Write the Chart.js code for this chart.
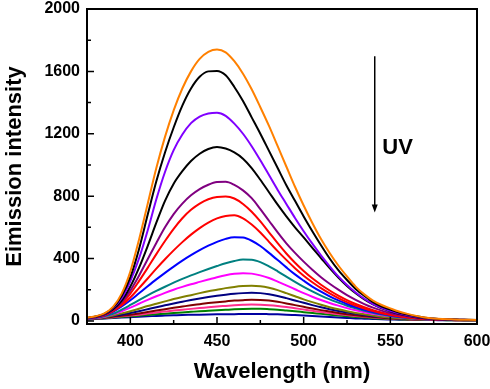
<!DOCTYPE html>
<html>
<head>
<meta charset="utf-8">
<script src="https://cdn.jsdelivr.net/npm/chart.js@4.4.1/dist/chart.umd.min.js"></script>
<style>
  html, body { margin: 0; padding: 0; background: #fff; }
  #wrap { width: 490px; height: 389px; }
</style>
</head>
<body>
<div id="wrap"><canvas id="spectra" width="490" height="389"></canvas></div>
<script>
// wavelength grid (nm)
const wavelengths = [375, 380, 385, 390, 395, 400, 405, 410, 415, 420,
  425, 430, 435, 440, 445, 450, 455, 460, 465, 470,
  475, 480, 485, 490, 495, 500, 505, 510, 515, 520,
  525, 530, 535, 540, 545, 550, 555, 560, 565, 570,
  575, 580, 585, 590, 595, 600];

// emission spectra, highest to lowest
const curveOrange = [20, 30, 48, 90, 175, 317, 520, 750, 980, 1180, 1350, 1490, 1600, 1680, 1725, 1740, 1722, 1665, 1585, 1485, 1370, 1250, 1120, 990, 860, 740, 628, 525, 435, 355, 285, 220, 170, 130, 102, 80, 60, 45, 32, 22, 16, 12, 10, 8, 7, 6];
const curveBlack1 = [19, 28, 45, 85, 160, 280, 460, 680, 895, 1080, 1240, 1380, 1490, 1565, 1600, 1603, 1575, 1500, 1410, 1305, 1200, 1090, 980, 870, 770, 670, 575, 485, 400, 325, 262, 205, 160, 120, 92, 72, 54, 40, 29, 20, 15, 11, 9, 8, 7, 6];
const curveViolet = [18, 27, 43, 82, 145, 255, 400, 580, 780, 955, 1095, 1195, 1268, 1310, 1330, 1335, 1315, 1265, 1200, 1120, 1030, 935, 840, 750, 660, 575, 495, 420, 350, 285, 230, 182, 142, 108, 84, 65, 48, 36, 26, 18, 13, 10, 8, 7, 6, 5];
const curveBlack2 = [18, 26, 42, 75, 130, 220, 340, 480, 630, 770, 880, 960, 1025, 1072, 1102, 1115, 1105, 1080, 1040, 980, 905, 825, 745, 670, 600, 535, 468, 403, 338, 278, 224, 177, 138, 106, 81, 62, 46, 34, 24, 17, 12, 10, 8, 7, 6, 5];
const curvePurple = [17, 25, 40, 70, 120, 195, 290, 395, 500, 600, 685, 752, 805, 845, 873, 890, 892, 872, 837, 787, 717, 642, 567, 497, 436, 380, 328, 280, 238, 200, 165, 135, 108, 85, 66, 51, 39, 29, 21, 15, 11, 9, 7, 6, 5, 5];
const curveRed1 = [17, 24, 38, 66, 110, 175, 255, 340, 428, 512, 590, 658, 712, 752, 780, 795, 797, 785, 750, 700, 638, 568, 498, 432, 373, 320, 273, 232, 195, 162, 133, 108, 87, 69, 54, 42, 32, 24, 18, 14, 10, 8, 7, 6, 5, 5];
const curveRed2 = [16, 23, 36, 62, 100, 150, 210, 272, 335, 395, 452, 505, 553, 595, 630, 657, 673, 678, 658, 618, 567, 507, 447, 391, 338, 290, 248, 210, 176, 146, 120, 98, 79, 63, 49, 38, 29, 22, 16, 12, 9, 8, 7, 6, 5, 5];
const curveBlue = [15, 22, 34, 58, 92, 132, 177, 222, 266, 308, 348, 386, 421, 453, 482, 507, 526, 536, 534, 514, 480, 436, 390, 343, 298, 258, 220, 187, 157, 131, 108, 88, 71, 57, 45, 35, 27, 21, 16, 12, 9, 8, 7, 6, 5, 5];
const curveTeal = [14, 20, 29, 45, 72, 102, 133, 163, 192, 219, 245, 269, 292, 313, 333, 352, 370, 384, 393, 392, 377, 350, 318, 284, 250, 218, 189, 162, 138, 117, 97, 80, 65, 52, 41, 32, 25, 19, 14, 11, 9, 7, 6, 5, 5, 5];
const curveMagenta = [13, 18, 27, 42, 62, 85, 110, 135, 158, 180, 200, 218, 235, 250, 265, 280, 293, 302, 306, 303, 292, 275, 252, 228, 203, 178, 155, 134, 115, 98, 82, 68, 56, 45, 36, 29, 23, 18, 14, 11, 9, 7, 6, 5, 5, 5];
const curveOlive = [12, 17, 24, 35, 48, 62, 78, 95, 110, 125, 140, 153, 165, 178, 190, 200, 210, 218, 223, 225, 222, 212, 197, 178, 158, 138, 120, 103, 88, 74, 62, 51, 42, 34, 27, 22, 17, 14, 11, 9, 7, 6, 5, 5, 4, 4];
const curveNavy = [12, 16, 22, 31, 40, 50, 62, 75, 88, 100, 112, 123, 134, 144, 153, 161, 168, 174, 178, 180, 178, 171, 160, 146, 131, 116, 101, 87, 75, 64, 54, 45, 37, 30, 25, 20, 16, 13, 10, 8, 7, 6, 5, 5, 4, 4];
const curveWine = [11, 15, 20, 27, 33, 40, 48, 57, 66, 75, 84, 92, 100, 107, 114, 120, 125, 130, 133, 135, 134, 130, 122, 112, 101, 90, 79, 69, 60, 51, 43, 36, 30, 25, 20, 16, 13, 11, 9, 7, 6, 5, 5, 4, 4, 4];
const curvePink = [11, 14, 18, 24, 29, 34, 40, 47, 54, 60, 66, 72, 77, 82, 87, 92, 96, 100, 103, 105, 104, 101, 96, 89, 81, 73, 65, 57, 50, 43, 37, 31, 26, 22, 18, 15, 12, 10, 8, 7, 6, 5, 5, 4, 4, 4];
const curveGreen = [10, 13, 17, 21, 25, 29, 33, 38, 42, 46, 50, 54, 58, 62, 65, 68, 71, 74, 76, 77, 77, 75, 72, 67, 62, 56, 50, 45, 39, 34, 29, 25, 21, 17, 14, 12, 10, 8, 7, 6, 5, 5, 4, 4, 4, 4];
const curveRoyal = [10, 12, 15, 18, 21, 24, 27, 29, 32, 34, 36, 38, 39, 40, 41, 42, 43, 43, 44, 44, 44, 43, 42, 40, 37, 34, 31, 28, 25, 22, 19, 16, 14, 12, 10, 9, 8, 7, 6, 5, 5, 4, 4, 4, 4, 4];

const xTicks = [400, 450, 500, 550, 600];
const xMinorTicks = [425, 475, 525, 575];
const yTicks = [0, 400, 800, 1200, 1600, 2000];
const yMinorTicks = [200, 600, 1000, 1400, 1800];

const series = [
  [curveOrange, '#FF8000'],
  [curveBlack1, '#000000'],
  [curveViolet, '#8000FF'],
  [curveBlack2, '#000000'],
  [curvePurple, '#800080'],
  [curveRed1, '#FF0000'],
  [curveRed2, '#FF0000'],
  [curveBlue, '#0000FF'],
  [curveTeal, '#008080'],
  [curveMagenta, '#FF00FF'],
  [curveOlive, '#808000'],
  [curveNavy, '#000080'],
  [curveWine, '#800000'],
  [curvePink, '#FF2E8C'],
  [curveGreen, '#008000'],
  [curveRoyal, '#0000A0']
];

const fontFamily = "Arial, 'Liberation Sans', sans-serif";

// frame, inward ticks and the UV arrow
const framePlugin = {
  id: 'frame',
  afterDatasetsDraw(chart) {
    const { ctx, chartArea: a, scales: { x, y } } = chart;
    ctx.save();
    ctx.strokeStyle = '#000';
    ctx.lineWidth = 2;
    ctx.strokeRect(a.left, a.top, a.right - a.left, a.bottom - a.top);

    ctx.lineWidth = 1.5;
    ctx.beginPath();
    xTicks.forEach(v => { const px = x.getPixelForValue(v); ctx.moveTo(px, a.bottom); ctx.lineTo(px, a.bottom - 7); });
    xMinorTicks.forEach(v => { const px = x.getPixelForValue(v); ctx.moveTo(px, a.bottom); ctx.lineTo(px, a.bottom - 4); });
    yTicks.forEach(v => { const py = y.getPixelForValue(v); ctx.moveTo(a.left, py); ctx.lineTo(a.left + 7, py); });
    yMinorTicks.forEach(v => { const py = y.getPixelForValue(v); ctx.moveTo(a.left, py); ctx.lineTo(a.left + 4, py); });
    ctx.stroke();

    // arrow pointing down
    const ax = x.getPixelForValue(541);
    const ay1 = y.getPixelForValue(1697);
    const ay2 = y.getPixelForValue(695);
    ctx.lineWidth = 1.5;
    ctx.beginPath();
    ctx.moveTo(ax, ay1);
    ctx.lineTo(ax, ay2 - 6);
    ctx.stroke();
    ctx.fillStyle = '#000';
    ctx.beginPath();
    ctx.moveTo(ax - 3, ay2 - 8);
    ctx.lineTo(ax + 3, ay2 - 8);
    ctx.lineTo(ax, ay2);
    ctx.closePath();
    ctx.fill();

    ctx.font = 'bold 22px ' + fontFamily;
    ctx.textAlign = 'left';
    ctx.textBaseline = 'middle';
    ctx.fillText('UV', x.getPixelForValue(545.4), y.getPixelForValue(1110));
    ctx.restore();
  }
};

new Chart(document.getElementById('spectra'), {
  type: 'line',
  data: {
    datasets: series.map(([vals, color]) => ({
      data: wavelengths.map((w, i) => ({ x: w, y: vals[i] })),
      borderColor: color,
      borderWidth: 2,
      pointRadius: 0,
      fill: false,
      cubicInterpolationMode: 'monotone'
    }))
  },
  options: {
    responsive: false,
    animation: false,
    devicePixelRatio: 1,
    layout: { padding: { top: 9, right: 13, left: 0, bottom: 0 } },
    plugins: { legend: { display: false }, tooltip: { enabled: false } },
    scales: {
      x: {
        type: 'linear',
        min: 375,
        max: 600,
        grid: { display: false, drawTicks: false },
        border: { display: false },
        afterBuildTicks: s => { s.ticks = xTicks.map(v => ({ value: v })); },
        afterFit: s => { s.height = 65; s.paddingLeft = 0; s.paddingRight = 0; },
        ticks: { color: '#000', padding: 8, maxRotation: 0, autoSkip: false, callback: v => String(v), font: { family: fontFamily, size: 16, weight: 'bold' } },
        title: { display: true, text: 'Wavelength (nm)', color: '#000', padding: { top: 0, bottom: 4 }, font: { family: fontFamily, size: 22, weight: 'bold' } }
      },
      y: {
        min: -20,
        max: 2000,
        grid: { display: false, drawTicks: false },
        border: { display: false },
        afterBuildTicks: s => { s.ticks = yTicks.map(v => ({ value: v })); },
        afterFit: s => { s.width = 87; s.paddingTop = 0; s.paddingBottom = 0; },
        ticks: { color: '#000', padding: 7, autoSkip: false, callback: v => String(v), font: { family: fontFamily, size: 16, weight: 'bold' } },
        title: { display: true, text: 'Eimission intensity', color: '#000', padding: { top: 2, bottom: 0 }, font: { family: fontFamily, size: 22, weight: 'bold' } }
      }
    }
  },
  plugins: [framePlugin]
});
</script>
</body>
</html>
